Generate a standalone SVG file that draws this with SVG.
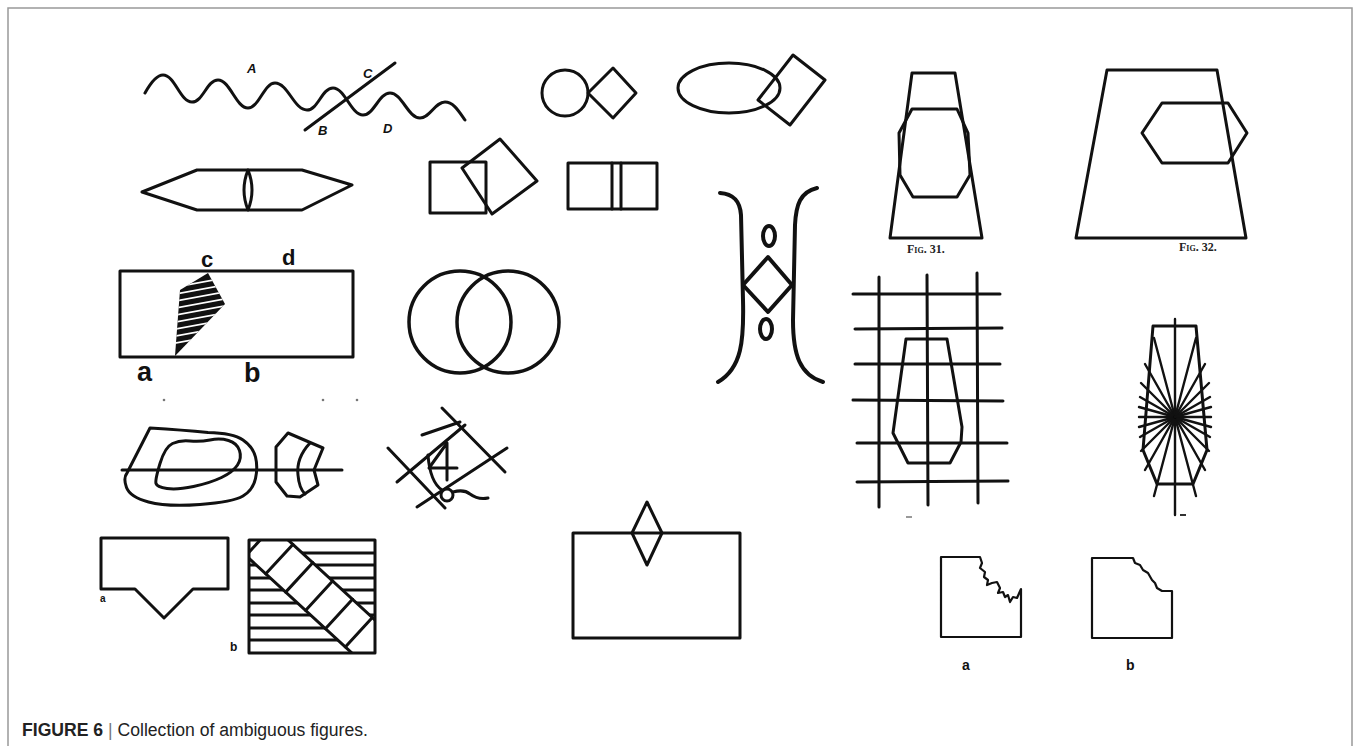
<svg xmlns="http://www.w3.org/2000/svg" width="1360" height="746" viewBox="0 0 1360 746">
<defs>
<style>
.s{fill:none;stroke:#111;stroke-width:3;stroke-linejoin:round;stroke-linecap:round}
.t{fill:none;stroke:#111;stroke-width:2.2;stroke-linejoin:round}
.th{fill:none;stroke:#111;stroke-width:4;stroke-linecap:round;stroke-linejoin:round}
.lab{font-family:"Liberation Sans",Arial,sans-serif;font-weight:bold;fill:#111}
.it{font-family:"Liberation Sans",Arial,sans-serif;font-weight:bold;font-style:italic;font-size:13px;fill:#111}
.fig{font-family:"Liberation Serif","Times New Roman",serif;font-weight:bold;font-size:12px;font-variant:small-caps;fill:#222}
.dot{fill:#777}
</style>
<clipPath id="sqclip"><rect x="249" y="540" width="126" height="113"/></clipPath>
<clipPath id="parclip"><polygon points="208,273 225,304 175,356 180,290"/></clipPath>
</defs>
<rect width="1360" height="746" fill="#fff"/>
<path d="M8,746 V8 H1352 V746" fill="none" stroke="#999" stroke-width="1.5"/>

<g id="wave">
<path class="s" stroke-width="3.3" d="M145,93 C150,84 156,75 163,75 C175,75 180,102 192,102 C203,102 207,80 218,80 C230,80 236,108 248,108 C259,108 264,83 275,83 C288,83 294,110 307,110 C318,110 322,88 333,88 C345,88 351,115 363,115 C374,115 379,93 390,93 C402,93 408,118 420,118 C430,118 435,102 445,102 C453,102 458,110 465,120"/>
<line class="s" x1="305" y1="130" x2="395" y2="63"/>
<text class="it" x="247" y="73">A</text>
<text class="it" x="363" y="78">C</text>
<text class="it" x="318" y="135">B</text>
<text class="it" x="383" y="133">D</text>
</g>

<g id="circle-diamond">
<circle class="s" cx="565" cy="93" r="23"/>
<polygon class="s" points="588,93 613,68 636,93 613,118"/>
</g>

<g id="ellipse-diamond">
<ellipse class="s" cx="729" cy="88" rx="51" ry="25"/>
<polygon class="s" points="793,55 825,80 790,125 758,100"/>
</g>

<g id="hexagon-lens">
<polygon class="s" points="142,192 197,170 302,170 352,185 302,210 197,210"/>
<path class="s" d="M248,170 Q240,190 248,210 Q256,190 248,170 Z"/>
</g>

<g id="squares">
<rect class="s" x="430" y="162" width="56" height="51"/>
<polygon class="s" points="500,139 537,181 492,214 462,168"/>
</g>

<g id="double-rect">
<rect class="s" x="568" y="163" width="89" height="46"/>
<line class="s" x1="612" y1="163" x2="612" y2="209"/>
<line class="s" x1="621" y1="163" x2="621" y2="209"/>
</g>

<g id="rect-cd">
<rect class="s" x="120" y="271" width="233" height="86"/>
<polygon points="208,273 225,304 175,356 180,290" fill="#111"/>
<g clip-path="url(#parclip)" stroke="#fff" stroke-width="1.6">
<line x1="160" y1="290" x2="240" y2="275"/>
<line x1="160" y1="297" x2="240" y2="282"/>
<line x1="160" y1="304" x2="240" y2="289"/>
<line x1="160" y1="311" x2="240" y2="296"/>
<line x1="160" y1="318" x2="240" y2="303"/>
<line x1="160" y1="325" x2="240" y2="310"/>
<line x1="160" y1="332" x2="240" y2="317"/>
<line x1="160" y1="339" x2="240" y2="324"/>
<line x1="160" y1="346" x2="240" y2="331"/>
</g>
<text class="lab" x="201" y="267" font-size="22">c</text>
<text class="lab" x="282" y="265" font-size="22">d</text>
<text class="lab" x="137" y="381" font-size="27">a</text>
<text class="lab" x="244" y="382" font-size="27">b</text>
<circle class="dot" cx="164" cy="400" r="1.3"/>
<circle class="dot" cx="323" cy="400" r="1.3"/>
<circle class="dot" cx="357" cy="400" r="1.3"/>
</g>

<g id="two-circles">
<circle cx="460" cy="322" r="51" fill="none" stroke="#111" stroke-width="3.5"/>
<circle cx="508" cy="322" r="51" fill="none" stroke="#111" stroke-width="3.5"/>
</g>

<g id="bracket-figure">
<path class="th" d="M720,193 C733,194 740,200 741,215 L743,300 C744,340 742,368 718,382"/>
<path class="th" d="M817,188 C800,192 796,205 795,225 L793,320 C793,355 800,375 823,382"/>
<polygon class="th" points="743,285 768,257 792,285 768,312"/>
<ellipse class="th" cx="769" cy="236" rx="6" ry="10"/>
<ellipse class="th" cx="766" cy="329" rx="6" ry="10"/>
</g>

<g id="fig31">
<polygon class="s" points="912,73 955,73 982,238 890,238"/>
<polygon class="s" points="912,109 957,109 968,133 970,175 957,197 913,197 900,175 899,133"/>
<text class="fig" x="907" y="253">Fig. 31.</text>
</g>

<g id="fig32">
<polygon class="s" points="1107,70 1217,70 1246,238 1076,238"/>
<polygon class="s" points="1142,133 1162,103 1228,103 1247,133 1228,163 1162,163"/>
<text class="fig" x="1179" y="251">Fig. 32.</text>
</g>

<g id="grid-figure">
<g class="s">
<line x1="879" y1="277" x2="879" y2="507"/>
<line x1="927" y1="275" x2="928" y2="505"/>
<line x1="977" y1="273" x2="978" y2="503"/>
<line x1="853" y1="294" x2="1000" y2="294"/>
<line x1="855" y1="329" x2="1002" y2="328"/>
<line x1="855" y1="364" x2="1000" y2="364"/>
<line x1="853" y1="400" x2="1003" y2="401"/>
<line x1="857" y1="443" x2="1007" y2="443"/>
<line x1="857" y1="482" x2="1008" y2="481"/>
</g>
<polygon class="s" points="906,339 947,339 962,427 961,442 950,463 908,463 893,433"/>
<rect x="906" y="516" width="6" height="2" fill="#999"/>
</g>

<g id="radial-figure">
<polygon class="s" points="1153,326 1196,326 1207,450 1193,484 1157,484 1143,450"/>
<g stroke="#111" stroke-width="2.4" stroke-linecap="round">
<line x1="1175" y1="417" x2="1211" y2="417"/>
<line x1="1175" y1="417" x2="1211" y2="427"/>
<line x1="1175" y1="417" x2="1210" y2="437"/>
<line x1="1175" y1="417" x2="1209" y2="451"/>
<line x1="1175" y1="417" x2="1205" y2="470"/>
<line x1="1175" y1="417" x2="1196" y2="496"/>
<line x1="1175" y1="417" x2="1175" y2="515"/>
<line x1="1175" y1="417" x2="1154" y2="496"/>
<line x1="1175" y1="417" x2="1145" y2="470"/>
<line x1="1175" y1="417" x2="1141" y2="451"/>
<line x1="1175" y1="417" x2="1140" y2="437"/>
<line x1="1175" y1="417" x2="1139" y2="427"/>
<line x1="1175" y1="417" x2="1139" y2="417"/>
<line x1="1175" y1="417" x2="1139" y2="407"/>
<line x1="1175" y1="417" x2="1140" y2="397"/>
<line x1="1175" y1="417" x2="1141" y2="383"/>
<line x1="1175" y1="417" x2="1145" y2="364"/>
<line x1="1175" y1="417" x2="1154" y2="338"/>
<line x1="1175" y1="417" x2="1175" y2="319"/>
<line x1="1175" y1="417" x2="1196" y2="338"/>
<line x1="1175" y1="417" x2="1205" y2="364"/>
<line x1="1175" y1="417" x2="1209" y2="383"/>
<line x1="1175" y1="417" x2="1210" y2="397"/>
<line x1="1175" y1="417" x2="1211" y2="407"/>
</g>
<rect x="1180" y="514" width="6" height="2" fill="#333"/>
</g>

<g id="contour-figure">
<path class="s" d="M150,428 Q183,430 208,432.5 Q233,433 243,440 Q253,447 255.5,457 Q258,467 255.5,478.5 Q253,490 243,496 Q233,502 200,504.5 Q167,507 148.5,502 Q130,497 126.5,487.5 Q123,478 127,473 L150,428 Z"/>
<path class="s" d="M160,463.5 Q165,447 172.5,443.5 Q180,440 190,441 Q200,442 210,440 Q220,438 228.5,440.5 Q237,443 239.5,450.5 Q242,458 237.5,465 Q233,472 221.5,477.5 Q210,483 193.5,486.5 Q177,490 167,488.5 Q157,487 156,483.5 Q155,480 160,463.5 Z"/>
<line class="s" x1="122" y1="470" x2="342" y2="470"/>
<polygon class="s" points="288,433 323,448 314,470 318,485 300,497 287,496 276,482 276,447"/>
<path class="s" d="M310,443 Q296,458 298,475 Q299,488 305,494"/>
</g>

<g id="four-figure">
<g class="s">
<line x1="442" y1="408" x2="505" y2="472"/>
<line x1="388" y1="448" x2="445" y2="508"/>
<line x1="422" y1="435" x2="460" y2="422"/>
<line x1="397" y1="482" x2="465" y2="425"/>
<line x1="417" y1="507" x2="507" y2="448"/>
<path d="M447,443 L429,468 L457,468 M447,443 V480"/>
<path d="M428,455 Q430,482 442,490"/>
<circle cx="447" cy="495" r="6"/>
<path d="M453,492 Q464,489 470,494 Q478,500 488,498"/>
</g>
</g>

<g id="pentagon-figure">
<path class="s" d="M101,538 H228 V589 H193 L164,618 L135,589 H101 Z"/>
<text class="lab" x="100" y="602" font-size="10">a</text>
</g>

<g id="hatched-square">
<g clip-path="url(#sqclip)">
<g class="s">
<line x1="249" y1="553" x2="375" y2="553"/>
<line x1="249" y1="565" x2="375" y2="565"/>
<line x1="249" y1="578" x2="375" y2="578"/>
<line x1="249" y1="590" x2="375" y2="590"/>
<line x1="249" y1="603" x2="375" y2="603"/>
<line x1="249" y1="615" x2="375" y2="615"/>
<line x1="249" y1="628" x2="375" y2="628"/>
<line x1="249" y1="640" x2="375" y2="640"/>
</g>
<g transform="translate(270.5,551) rotate(42.6)">
<rect x="-80" y="-20" width="300" height="40" fill="#fff"/>
<g class="s">
<line x1="-80" y1="-20" x2="220" y2="-20"/>
<line x1="-80" y1="20" x2="220" y2="20"/>
<line x1="-15" y1="-20" x2="-15" y2="20"/>
<line x1="12" y1="-20" x2="12" y2="20"/>
<line x1="39" y1="-20" x2="39" y2="20"/>
<line x1="66" y1="-20" x2="66" y2="20"/>
<line x1="93" y1="-20" x2="93" y2="20"/>
<line x1="120" y1="-20" x2="120" y2="20"/>
<line x1="147" y1="-20" x2="147" y2="20"/>
</g>
</g>
</g>
<rect class="s" x="249" y="540" width="126" height="113"/>
<text class="lab" x="230" y="651" font-size="12">b</text>
</g>

<g id="rect-diamond">
<rect class="s" x="573" y="533" width="167" height="105"/>
<polygon class="s" points="647,502 662,533 647,565 632,533"/>
</g>

<g id="square-a">
<path class="t" d="M980,557 H941 V637 H1021 V589 L1017,598 L1013,597 L1010,602 L1008,595 L1005,597 L1003,592 L998,593 L1000,588 L997,582 L992,583 L987,585 L988,580 L984,577 L985,572 L980,568 L982,563 Z"/>
<text class="lab" x="962" y="670" font-size="14">a</text>
</g>

<g id="square-b">
<path class="t" d="M1133,558 H1092 V638 H1172 V591 H1162 L1157,588 L1155,583 L1152,580 L1148,573 L1143,570 L1140,565 L1135,563 Z"/>
<text class="lab" x="1126" y="670" font-size="14">b</text>
</g>

<g id="caption">
<text x="22" y="736" font-family="'Liberation Sans',Arial,sans-serif" font-size="17.6" fill="#222"><tspan font-weight="bold">FIGURE 6</tspan><tspan fill="#777"> | </tspan>Collection of ambiguous figures.</text>
</g>
</svg>
